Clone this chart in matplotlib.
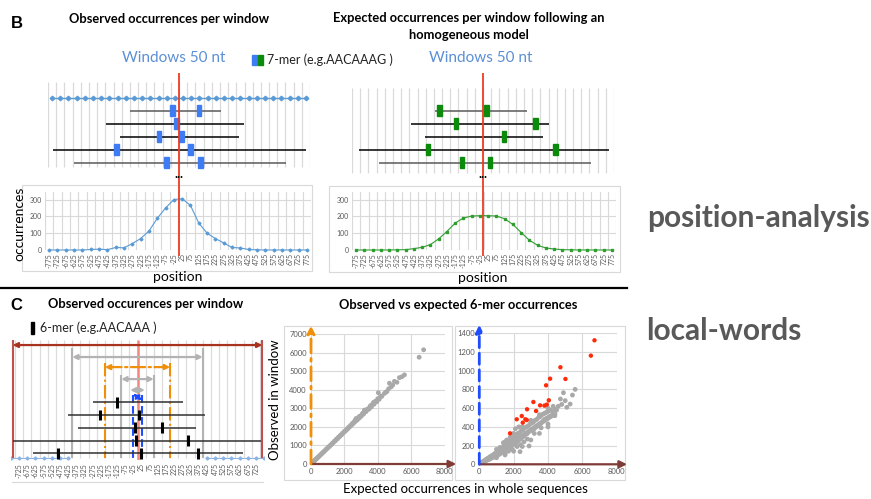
import matplotlib.pyplot as plt
from matplotlib.patches import Rectangle

plt.rcParams['font.family'] = ['Lato', 'DejaVu Sans']

W, H = 871, 499

# profile data (occurrences per 50 nt window)
positions = list(range(-775, 776, 50))
observed = [0, 0, 0, 0, 0, 3, 5, 2, 15, 13, 38, 68, 112, 188, 250, 300,
            305, 265, 160, 100, 68, 42, 15, 12, 3, 1, 0, 0, 0, 0, 0, 0]
expected = [0, 0, 0, 0, 0, 1, 2, 8, 16, 32, 66, 110, 160, 190, 202, 204,
            204, 202, 186, 152, 104, 58, 28, 12, 6, 2, 1, 0, 0, 0, 0, 0]

# sequences in the window sketches (start, end, word hits) in nt
obs_row_start = [-300, -446, -360, -770, -641]
obs_row_end = [256, 397, 366, 776, 653]
obs_row_hits = [[-37, 122], [-18], [-122, 18], [-379, 73], [-79, 134]]
exp_row_start = [-293, -440, -354, -757, -635]
exp_row_end = [269, 403, 366, 769, 660]
exp_row_hits = [[-263, 24], [-165, 318], [128], [-336, 440], [-128, 43]]
c_row_start = [-275, -427, -366, -763, -641]
c_row_end = [281, 415, 360, 756, 647]
c_row_hits = [[-124], [-232, 12], [-18, 151], [-12, 311], [-488, 22, 372]]
c_window_half = [765, 400, 200, 100, 45, 25]

# observed vs expected, all windows
all_x = [20, 40, 70, 100, 130, 170, 200, 240, 280, 320, 360, 400, 450, 500, 540, 600,
         650, 700, 750, 800, 860, 920, 980, 1040, 1100, 1160, 1220, 1280, 1340, 1400,
         1460, 1520, 1580, 1640, 1700, 1760, 1820, 1880, 1940, 2000, 2060, 2120, 2180,
         2240, 2300, 2360, 2420, 2480, 2540, 2600, 2660, 2720, 2780, 2840, 2900, 2960,
         3020, 3080, 3150, 3220, 3300, 3380, 3460, 3540, 3620, 3700, 3780, 3860, 3940,
         4000, 4080, 4150, 4250, 4400, 4550, 4650, 4700, 4800, 4900, 5000, 5150, 5300,
         5450, 5600, 6480, 6750, 4034, 2700, 3200, 3110, 3340, 3580, 3820, 4200, 4480,
         2650, 2900, 3500, 3750]
all_y = [15, 40, 55, 90, 105, 150, 170, 215, 235, 285, 300, 355, 380, 440, 460, 520,
         560, 615, 640, 700, 735, 810, 840, 915, 940, 1010, 1045, 1120, 1150, 1230,
         1250, 1340, 1350, 1440, 1460, 1550, 1560, 1650, 1670, 1760, 1770, 1860, 1870,
         1970, 1980, 2070, 2080, 2190, 2180, 2290, 2290, 2400, 2380, 2500, 2480, 2590,
         2580, 2700, 2690, 2820, 2820, 2960, 2950, 3100, 3080, 3240, 3220, 3380, 3350,
         3520, 3480, 3600, 3650, 3800, 3900, 4050, 4350, 4150, 4250, 4450, 4400, 4650,
         4700, 4800, 5750, 6150, 3838, 2450, 2900, 2740, 2910, 3150, 3330, 3660, 3870,
         2350, 2560, 3000, 3320]

# observed vs expected, central window (grey = not significant, red = significant)
win_x = [30, 60, 90, 120, 150, 180, 220, 260, 300, 340, 380, 420, 460, 500, 550, 600,
         650, 700, 750, 800, 850, 900, 950, 1000, 1000, 1050, 1100, 1150, 1200, 1250,
         1300, 1350, 1400, 1450, 1500, 1550, 1600, 1650, 1700, 1750, 1800, 1850, 1900,
         1950, 2000, 1200, 1400, 1600, 1800, 1500, 1700, 1900, 2050, 2100, 2150, 2200,
         2250, 2300, 2350, 2400, 2450, 2500, 2550, 2600, 2650, 2700, 2750, 2800, 2850,
         2900, 2950, 3000, 2200, 2400, 2600, 2800, 2373, 2898, 2100, 2300, 3050, 3100,
         3150, 3200, 3250, 3300, 3350, 3400, 3450, 3500, 3550, 3600, 3650, 3700, 3750,
         3800, 3850, 3900, 3950, 4000, 4050, 4100, 4150, 4200, 4300, 4400, 4500, 3200,
         3600, 4000, 4723, 4898, 5096, 5289, 5423, 5580, 4600, 4800, 5000, 4400]
win_y = [5, 10, 8, 18, 15, 25, 20, 35, 30, 45, 38, 55, 45, 65, 50, 78,
         60, 90, 70, 100, 78, 115, 90, 125, 85, 140, 100, 150, 110, 170,
         125, 180, 140, 200, 150, 210, 165, 230, 175, 245, 190, 260, 200,
         280, 215, 180, 230, 260, 290, 120, 140, 160, 300, 230, 310, 240,
         330, 260, 340, 270, 360, 290, 370, 300, 390, 320, 400, 330, 410,
         350, 430, 360, 190, 210, 240, 270, 135, 196, 380, 400, 440, 370,
         450, 380, 470, 400, 480, 410, 500, 430, 510, 440, 530, 460, 540,
         480, 550, 490, 560, 500, 570, 510, 580, 520, 560, 590, 580, 330,
         390, 430, 698, 765, 609, 644, 740, 801, 620, 640, 680, 520]
win_x2 = [100, 200, 300, 400, 500, 600, 700, 800, 900, 1000, 1100, 1200, 1300, 1400,
          1500, 1600, 1700, 1800, 1900, 2000, 2100, 2200, 2300, 2400, 2500, 2600, 2700,
          2800, 2900, 3000, 3100, 3200, 3300, 3400, 3500, 3600, 3700, 3800, 3900, 4000,
          4100, 4200, 4300, 4400, 1000, 1500, 2000, 2500, 3000, 3500, 4000, 1000, 1500,
          2000, 2500, 3000, 3500, 4000, 4300]
win_y2 = [12, 22, 35, 45, 58, 68, 80, 90, 100, 110, 122, 135, 148, 160,
          172, 185, 200, 212, 225, 240, 255, 265, 280, 292, 305, 318, 330,
          342, 355, 368, 380, 392, 405, 418, 430, 442, 455, 468, 480, 492,
          505, 515, 528, 540, 70, 100, 140, 190, 260, 330, 400, 160, 240,
          330, 400, 470, 530, 600, 620]
sig_x = [1790, 2180, 2472, 2530, 2682, 2763, 2781, 3149, 3306, 3539, 3790, 3889,
         3930, 4047, 4122, 4723, 5015, 6496, 6706]
sig_y = [331, 481, 516, 445, 481, 473, 588, 666, 570, 630, 627, 844,
         638, 684, 915, 1037, 912, 1161, 1325]

fig = plt.figure(figsize=(W / 100, H / 100), dpi=100)


def box(x0, y0, x1, y1, z=1):
    ax = fig.add_axes([x0 / W, 1 - y1 / H, (x1 - x0) / W, (y1 - y0) / H])
    ax.set_facecolor('none')
    ax.set_zorder(z)
    return ax


def label(x, y, s, **kw):
    fig.text(x / W, 1 - y / H, s, **kw)


ov = box(0, 0, W, H, z=0)
ov.set_xlim(0, W)
ov.set_ylim(H, 0)
ov.axis('off')
frame = dict(fill=False, ec='#d9d9d9', lw=0.8)
ov.add_patch(Rectangle((22, 185), 290, 86, **frame))
ov.add_patch(Rectangle((329, 186), 291, 86, **frame))
ov.add_patch(Rectangle((284, 326), 168, 154, **frame))
ov.add_patch(Rectangle((455, 326), 170, 154, **frame))
ov.plot([12, 263], [482, 482], color='#d9d9d9', lw=0.8)
ov.plot([0, 627], [288, 288], color='black', lw=1.6)
ov.add_patch(Rectangle((252, 55), 5, 10, color='#3d7cf2'))
ov.add_patch(Rectangle((258, 55), 5, 10, color='#0b8a0b'))
ov.add_patch(Rectangle((31, 322), 3, 12, color='black'))

GREY_TXT = '#595959'


# ---------------- panel B ----------------
def windows_diagram(ax, starts, ends, hits, color, g_top, g_bot):
    ax.set_xlim(-800, 800)
    ax.set_ylim(12.25, -1.94)
    ax.axis('off')
    ax.vlines(range(-800, 801, 50), g_top, g_bot, color='#dadada', lw=0.9)
    for i in range(len(starts)):
        row = i + 1
        c = '#5a5a5a' if row in (1, 5) else 'black'
        ax.hlines(row, starts[i], ends[i], color=c, lw=1.1)
        for h in hits[i]:
            ax.add_patch(Rectangle((h - 15, row - 0.42), 30, 0.84, color=color, zorder=3))
    ax.axvline(0, color='#ee3b22', lw=1.3, zorder=4)


def profile(ax, values, color, marker):
    ax.set_xlim(-800, 800)
    ax.set_ylim(0, 345)
    ax.set_xticks(range(-800, 801, 50), minor=True)
    ax.grid(which='minor', axis='x', color='#d9d9d9', lw=0.8)
    ax.grid(which='major', axis='y', color='#d9d9d9', lw=0.8)
    ax.plot(positions, values, color=color, lw=0.8, marker=marker, ms=1.5, clip_on=False)
    ax.set_xticks(positions)
    ax.set_xticklabels([str(p) for p in positions], rotation=90, fontsize=5, color=GREY_TXT)
    ax.set_yticks([0, 100, 200, 300])
    ax.set_yticklabels(['0', '100', '200', '300'], fontsize=5, color=GREY_TXT)
    ax.tick_params(which='both', length=0, pad=2)
    for s in ax.spines.values():
        s.set_visible(False)


axd1 = box(48, 73, 310, 256, z=3)
windows_diagram(axd1, obs_row_start, obs_row_end, obs_row_hits, '#3d7cf2', -1.24, 5.35)
axd1.plot(positions, [0] * len(positions), color='#5b9bd5', lw=1, marker='D', ms=2.3)
axd2 = box(352, 73, 614, 256, z=3)
windows_diagram(axd2, exp_row_start, exp_row_end, exp_row_hits, '#0b8a0b', -0.78, 5.81)

axp1 = box(45, 192, 311, 250, z=2)
profile(axp1, observed, '#5b9bd5', 'D')
axp2 = box(352, 192, 616, 250, z=2)
profile(axp2, expected, '#2f9e2f', 's')

label(17, 23, 'B', fontsize=12, fontweight='bold', family='Liberation Sans', ha='center', va='center')
label(169, 19, 'Observed occurrences per window', fontsize=9.3, fontweight='bold', ha='center', va='center')
label(469, 18, 'Expected occurrences per window following an', fontsize=9.3, fontweight='bold', ha='center', va='center')
label(469, 35, 'homogeneous model', fontsize=9.3, fontweight='bold', ha='center', va='center')
label(174, 58, 'Windows 50 nt', fontsize=11, color='#5b8fd6', ha='center', va='center')
label(481, 58, 'Windows 50 nt', fontsize=11, color='#5b8fd6', ha='center', va='center')
label(267, 60, '7-mer (e.g.AACAAAG )', fontsize=9, color='#222222', va='center')
label(179, 174, '...', fontsize=9, fontweight='bold', ha='center', va='center')
label(483, 174, '...', fontsize=9, fontweight='bold', ha='center', va='center')
label(19, 224, 'occurrences', fontsize=10, rotation=90, ha='center', va='center')
label(178, 277, 'position', fontsize=10, ha='center', va='center')
label(483, 278, 'position', fontsize=10, ha='center', va='center')
label(647, 227, 'position-analysis', fontsize=21.5, fontweight='bold', color=GREY_TXT, va='baseline')

# ---------------- panel C ----------------
label(16, 306, 'C', fontsize=12, fontweight='bold', family='Liberation Sans', ha='center', va='center')
label(146, 304, 'Observed occurences per window', fontsize=9.3, fontweight='bold', ha='center', va='center')
label(40, 328, '6-mer (e.g.AACAAA )', fontsize=9, color='#222222', va='center')

axc = box(11, 336, 264, 460, z=2)
axc.set_xlim(-775, 775)
axc.set_ylim(5.53, -4.2)
for s in axc.spines.values():
    s.set_visible(False)
axc.set_yticks([])
axc.set_xticks(range(-725, 726, 50))
axc.set_xticklabels([str(p) for p in range(-725, 726, 50)], rotation=90, fontsize=5, color=GREY_TXT)
axc.tick_params(length=0, pad=2)
axc.vlines(range(-750, 751, 50), -3.88, 5.37, color='#dcdcdc', lw=0.9)
edge = [p for p in positions if abs(p) > 400]
axc.plot([p for p in edge if p < 0], [5.37] * 8, color='#8db4e2', lw=0.8, marker='D', ms=1.6)
axc.plot([p for p in edge if p > 0], [5.37] * 8, color='#8db4e2', lw=0.8, marker='D', ms=1.6)

w_colors = ['#a8321f', '#b3b3b3', '#f0900a', '#b3b3b3', '#b3b3b3', '#1f4cff']
w_rows = [-3.49, -2.55, -1.76, -0.82, 0.04, 0.59]
w_tops = [-3.88, -3.25, -2.08, -1.14, None, 0.43]
w_styles = ['-', '-', '-.', '-', '-', '--']
for half, c, r, top, ls in zip(c_window_half, w_colors, w_rows, w_tops, w_styles):
    if top is not None:
        lc = '#c0504d' if half > 700 else c
        axc.vlines([-half, half], top, 5.37, color=lc, lw=1.5, linestyles=ls, zorder=3)
    axc.annotate('', xy=(half, r), xytext=(-half, r),
                 arrowprops=dict(arrowstyle='<|-|>', color=c, lw=1.6, linestyle=ls,
                                 mutation_scale=7, shrinkA=0, shrinkB=0), zorder=4)
axc.vlines([0], -3.88, 5.53, color='#f4877c', lw=1.8, zorder=2)
for i in range(len(c_row_start)):
    row = i + 1
    axc.hlines(row, c_row_start[i], c_row_end[i], color='#303030', lw=1.1, zorder=4)
    axc.vlines(c_row_hits[i], row - 0.42, row + 0.42, color='black', lw=2.2, zorder=5)

label(458, 305, 'Observed vs expected 6-mer occurrences', fontsize=9.3, fontweight='bold', ha='center', va='center')
label(275, 400, 'Observed in window', fontsize=9.5, rotation=90, ha='center', va='center')
label(465, 489, 'Expected occurrences in whole sequences', fontsize=9.5, ha='center', va='center')
label(646, 340, 'local-words', fontsize=21.5, fontweight='bold', color=GREY_TXT, va='baseline')


def scatter_axes(ax, ymax, ystep):
    ax.set_xlim(0, 8000)
    ax.set_ylim(0, ymax)
    ax.set_xticks(range(0, 8001, 2000))
    ax.set_yticks(range(0, ymax + 1, ystep))
    ax.grid(color='#d9d9d9', lw=0.8)
    ax.set_axisbelow(True)
    ax.tick_params(length=0, pad=3, labelsize=5.5, labelcolor=GREY_TXT)
    for s in ax.spines.values():
        s.set_visible(False)


axs1 = box(311, 334, 444.5, 464, z=2)
scatter_axes(axs1, 7000, 1000)
axs1.scatter(all_x, all_y, s=12, color='#a9a9a9', edgecolors='none', zorder=3)
axs1.annotate('', xy=(8700, 0), xytext=(0, 0), annotation_clip=False,
              arrowprops=dict(arrowstyle='-|>', color='#7f3b35', lw=1.6, mutation_scale=11, shrinkA=0, shrinkB=0))
axs1.annotate('', xy=(0, 7450), xytext=(0, 0), annotation_clip=False,
              arrowprops=dict(arrowstyle='-|>', color='#f0900a', lw=2.0, linestyle=(0, (5, 2, 1, 2)),
                              mutation_scale=11, shrinkA=0, shrinkB=0))

axs2 = box(479.3, 333.3, 616.7, 464.3, z=2)
scatter_axes(axs2, 1400, 200)
axs2.scatter(win_x, win_y, s=12, color='#a9a9a9', edgecolors='none', zorder=3)
axs2.scatter(win_x2, win_y2, s=12, color='#a9a9a9', edgecolors='none', zorder=3)
axs2.scatter(sig_x, sig_y, s=10, color='#ff2a0a', edgecolors='none', zorder=4)
axs2.annotate('', xy=(8600, 0), xytext=(0, 0), annotation_clip=False,
              arrowprops=dict(arrowstyle='-|>', color='#7f3b35', lw=1.6, mutation_scale=11, shrinkA=0, shrinkB=0))
axs2.annotate('', xy=(0, 1490), xytext=(0, 0), annotation_clip=False,
              arrowprops=dict(arrowstyle='-|>', color='#1f4cff', lw=2.0, linestyle=(0, (4, 2)),
                              mutation_scale=11, shrinkA=0, shrinkB=0))

fig.savefig('out.png', dpi=100)
